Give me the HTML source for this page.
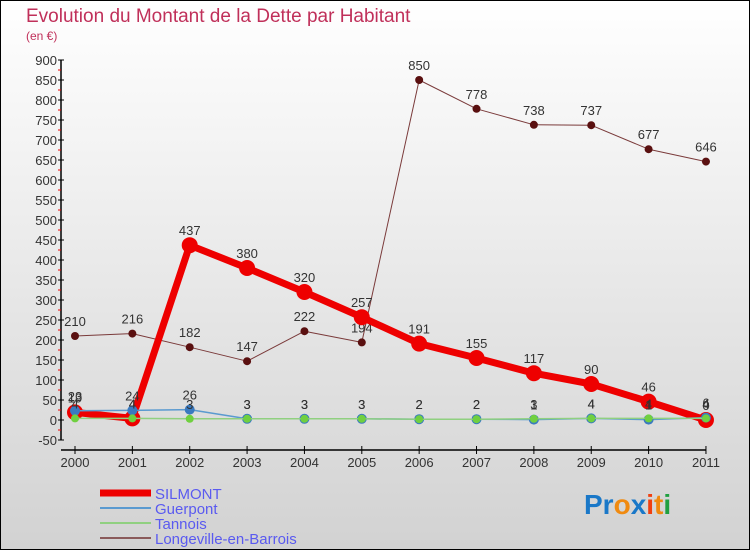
<!DOCTYPE html>
<html><head><meta charset="utf-8"><style>
body{margin:0;}
#c{width:750px;height:550px;position:relative;}
svg text{font-family:"Liberation Sans",sans-serif;}
</style></head><body>
<div id="c">
<svg id="s" width="750" height="550" xmlns="http://www.w3.org/2000/svg">
<defs><linearGradient id="bg" x1="0" y1="0" x2="0" y2="1"><stop offset="0" stop-color="#ffffff"/><stop offset="1" stop-color="#d2d2d2"/></linearGradient></defs>
<rect x="0.5" y="0.5" width="749" height="549" fill="url(#bg)" stroke="#000"/>
<text x="26" y="22" font-size="19" fill="#c0305a">Evolution du Montant de la Dette par Habitant</text>
<text x="26" y="40" font-size="12" fill="#c0305a">(en €)</text>
<g id="axes"></g><g id="series"></g><g id="legend"></g>
<text x="584" y="514" font-size="28" font-weight="bold"><tspan fill="#1a78c8">Pr</tspan><tspan fill="#f08a10">o</tspan><tspan fill="#1a78c8">x</tspan><tspan fill="#f04010">i</tspan><tspan fill="#f08a10">t</tspan><tspan fill="#20a040">i</tspan></text>
</svg></div>
<script>
const years=[2000,2001,2002,2003,2004,2005,2006,2007,2008,2009,2010,2011];
const yTicks=[-50,0,50,100,150,200,250,300,350,400,450,500,550,600,650,700,750,800,850,900];
const silmont=[19,4,437,380,320,257,191,155,117,90,46,0];
const guerpont=[23,24,26,3,3,3,2,2,1,4,1,6];
const tannois=[4,4,3,3,3,3,2,2,3,4,4,4];
const longeville=[210,216,182,147,222,194,850,778,738,737,677,646];
const NS="http://www.w3.org/2000/svg";
function X(i){return 75+i*57.36;}
function Y(v){return 420-v*0.4;}
function mk(t,a,p){const e=document.createElementNS(NS,t);for(const k in a)e.setAttribute(k,a[k]);p.appendChild(e);return e;}
const ax=document.getElementById('axes');
let l=mk('line',{x1:61,y1:60,x2:61,y2:440,stroke:'#000','stroke-width':1.5},ax);

yTicks.forEach(v=>{mk('line',{x1:58,y1:Y(v),x2:64,y2:Y(v),stroke:'#000'},ax);
 if(v<900)mk('line',{x1:58,y1:Y(v+25),x2:61,y2:Y(v+25),stroke:'#e00'},ax);
 const t=mk('text',{x:57,y:Y(v)+5,'font-size':13,fill:'#333','text-anchor':'end'},ax);t.textContent=v;
 });
l=mk('line',{x1:61,y1:450,x2:706,y2:450,stroke:'#000','stroke-width':1.5},ax);

years.forEach((y,i)=>{mk('line',{x1:X(i),y1:446,x2:X(i),y2:454,stroke:'#000'},ax);
 const t=mk('text',{x:X(i),y:467,'font-size':13,fill:'#333','text-anchor':'middle'},ax);t.textContent=y;
 });
const sg=document.getElementById('series');
function draw(data,name,color,w,r,dot){
 const g=mk('g',{},sg);
 const p=mk('polyline',{points:data.map((v,i)=>X(i)+','+Y(v)).join(' '),fill:'none',stroke:color,'stroke-width':w,'stroke-linejoin':'round'},g);
 
 data.forEach((v,i)=>{const c=mk('circle',{cx:X(i),cy:Y(v),r:r,fill:dot},g);
  
  const t=mk('text',{x:X(i),y:Y(v)-10,'font-size':13,fill:'#333','text-anchor':'middle'},g);t.textContent=v;
  });
}
draw(longeville,'longeville','#7a3a3a',1,4,'#5a1010');
draw(silmont,'silmont','#ee0000',7,8,'#ee0000');
draw(guerpont,'guerpont','#5a9ad0',1.5,5,'#3a7ac0');
draw(tannois,'tannois','#90d080',1.5,4,'#70d040');
const lg=document.getElementById('legend');
[['SILMONT','#ee0000',7],['Guerpont','#5a9ad0',2],['Tannois','#90d080',2],['Longeville-en-Barrois','#8a5a5a',2]].forEach((e,i)=>{
 const y=493+i*15;
 const ln=mk('line',{x1:100,y1:y,x2:151,y2:y,stroke:e[1],'stroke-width':e[2]},lg);
 
 const t=mk('text',{x:155,y:y+6,'font-size':15,fill:'#5a5af0'},lg);t.textContent=e[0];
 });
</script>
</body></html>
